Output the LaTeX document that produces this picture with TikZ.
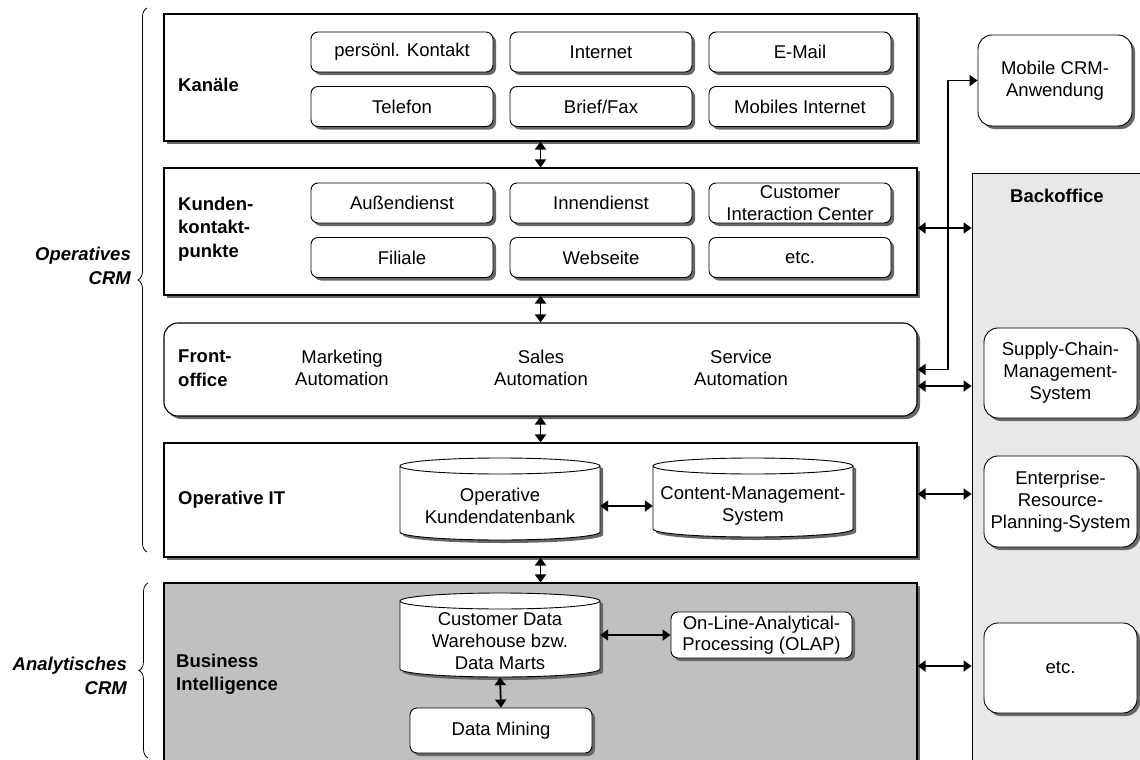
\documentclass[tikz,border=0pt]{standalone}
\usepackage{fontspec}
\setmainfont{Liberation Sans}
\usetikzlibrary{arrows.meta,shadows,decorations.pathreplacing,calc}
\definecolor{shadowc}{HTML}{676767}
\definecolor{bifill}{HTML}{C0C0C0}
\definecolor{backfill}{HTML}{E8E8E8}

% database cylinder: left, top, right, bottom (px), horizontal radius
\newcommand{\dbcyl}[5]{%
  \fill[shadowc] (#1+3,#2+11) -- (#1+3,#4-5) arc[start angle=180,end angle=360,x radius=#5pt,y radius=8pt]
        -- (#3+3,#2+11) arc[start angle=0,end angle=180,x radius=#5pt,y radius=8pt] -- cycle;
  \draw[fill=white,line width=0.9pt] (#1,#2+8) -- (#1,#4-8) arc[start angle=180,end angle=360,x radius=#5pt,y radius=8pt]
        -- (#3,#2+8) arc[start angle=0,end angle=180,x radius=#5pt,y radius=8pt] -- cycle;
  \draw[line width=0.9pt] (#1,#2+8) arc[start angle=180,end angle=360,x radius=#5pt,y radius=8pt];
}

\begin{document}
\begin{tikzpicture}[x=1pt,y=-1pt,
  font=\fontsize{18.5}{22}\selectfont,
  dropsh/.style={drop shadow={shadow xshift=3pt,shadow yshift=-3pt,fill=shadowc,opacity=1}},
  tier/.style={draw,fill=white,line width=1.1pt,minimum width=753pt,inner sep=0pt,dropsh},
  item/.style={draw,fill=white,rounded corners=7pt,line width=0.9pt,minimum width=182pt,minimum height=40pt,inner sep=0pt,align=center,dropsh},
  sidebox/.style={draw,fill=white,rounded corners=14pt,line width=0.9pt,minimum width=153pt,minimum height=90pt,inner sep=0pt,align=center,dropsh},
  lbl/.style={font=\fontsize{18.5}{23.5}\selectfont\bfseries,anchor=west,align=left,inner sep=0pt},
  plain/.style={align=center,inner sep=0pt},
  link/.style={line width=1.8pt,{Triangle[length=8pt,width=11pt]}-{Triangle[length=8pt,width=11pt]}},
  curly/.style={decorate,decoration={brace,amplitude=9pt},line width=0.8pt},
]
\path[use as bounding box] (0,0) rectangle (1140,760);
\clip (0,0) rectangle (1140,760);

% ---- Backoffice panel
\node[draw,fill=backfill,line width=0.9pt,minimum width=180pt,minimum height=600pt,inner sep=0pt] (back) at (1062,473) {};
\node[lbl,anchor=center] (backlbl) at (1057,196) {Backoffice};

% ---- Kanäle
\node[tier,minimum height=127pt] (kan) at (540.5,77.5) {};
\node[lbl] (kanlbl) at (178,85) {Kanäle};
\node[item] (k1) at (402,52) {persönl. Kontakt};
\node[item] (k2) at (601,52) {Internet};
\node[item] (k3) at (800,52) {E-Mail};
\node[item] (k4) at (402,106.5) {Telefon};
\node[item] (k5) at (601,106.5) {Brief/Fax};
\node[item] (k6) at (800,106.5) {Mobiles Internet};

% ---- Kundenkontaktpunkte
\node[tier,minimum height=127pt] (kun) at (540.5,231.5) {};
\node[lbl] (kunlbl) at (178,229) {Kunden-\\kontakt-\\punkte};
\node[item] (p1) at (402,203) {Außendienst};
\node[item] (p2) at (601,203) {Innendienst};
\node[item,font=\fontsize{18.5}{21.5}\selectfont] (p3) at (800,203) {Customer\\Interaction Center};
\node[item] (p4) at (402,257.5) {Filiale};
\node[item] (p5) at (601,257.5) {Webseite};
\node[item] (p6) at (800,257.5) {etc.};

% ---- Frontoffice
\node[tier,rounded corners=14pt,minimum height=93pt] (front) at (540.5,369.5) {};
\node[lbl] (frontlbl) at (178,368) {Front-\\office};
\node[plain] (fm) at (342,368) {Marketing\\Automation};
\node[plain] (fs) at (541,368) {Sales\\Automation};
\node[plain] (fv) at (741,368) {Service\\Automation};

% ---- Operative IT
\node[tier,minimum height=114pt] (opit) at (540.5,500) {};
\node[lbl] (opitlbl) at (178,500) {Operative IT};
\dbcyl{400}{458}{600}{540}{100}
\dbcyl{653}{458}{853}{537}{100}
\node[plain,minimum width=200pt] (odb) at (500,506) {Operative\\Kundendatenbank};
\node[plain,minimum width=200pt] (cms) at (753,506) {Content-Management-\\System};

% ---- Business Intelligence
\node[tier,fill=bifill,minimum height=187pt] (bi) at (540.5,676.5) {};
\node[lbl] (bilbl) at (176,674) {Business\\Intelligence};
\dbcyl{400}{593}{600}{677}{100}
\node[plain,minimum width=200pt,minimum height=72pt] (cdw) at (500,641) {Customer Data\\Warehouse bzw.\\Data Marts};
\node[item,minimum width=181pt,minimum height=46pt,font=\fontsize{18.5}{21.5}\selectfont] (olap) at (761.5,635) {On-Line-Analytical-\\Processing (OLAP)};
\node[item,minimum height=45pt] (dm) at (501,730.5) {Data Mining};

% ---- systems on the right
\node[sidebox,minimum width=154pt,minimum height=91pt] (mob) at (1055,80.5) {Mobile CRM-\\Anwendung};
\node[sidebox] (scm) at (1060.5,373) {Supply-Chain-\\Management-\\System};
\node[sidebox,minimum height=91pt] (erp) at (1060.5,501.5) {Enterprise-\\Resource-\\Planning-System};
\node[sidebox] (etc) at (1060.5,668) {etc.};

% ---- side labels with braces
\draw[curly] (147,552) -- (147,8);
\node[lbl,font=\fontsize{18.5}{23.5}\selectfont\bfseries\itshape,anchor=east,align=right] (opcrm) at (131,266) {Operatives\\CRM};
\draw[curly] (148,758) -- (148,583);
\node[lbl,font=\fontsize{18.5}{23.5}\selectfont\bfseries\itshape,anchor=east,align=right] (ancrm) at (127,676) {Analytisches\\CRM};

% ---- connectors between the tiers
\draw[link] (kan.south) -- (kun.north);
\draw[link] (kun.south) -- (front.north);
\draw[link] (front.south) -- (opit.north);
\draw[link] (opit.south) -- (bi.north);

% ---- connectors inside the tiers
\draw[link] (odb.east) -- (cms.west);
\draw[link] (olap.west -| cdw.east) -- (olap.west);
\draw[link] (cdw.south) -- (dm.north);

% ---- connectors to the backoffice and the mobile application
\coordinate (bend) at (948,369.5);
\draw[link] (front.east) -- (bend) |- (mob.west);
\draw[link] ([yshift=3.5pt]kun.east) -- ([yshift=3.5pt]kun.east -| back.west);
\draw[link] ([yshift=-16.5pt]front.east) -- ([yshift=-16.5pt]front.east -| back.west);
\draw[link] ([yshift=6pt]opit.east) -- ([yshift=6pt]opit.east -| back.west);
\draw[link] ([yshift=10.5pt]bi.east) -- ([yshift=10.5pt]bi.east -| back.west);
\end{tikzpicture}
\end{document}
